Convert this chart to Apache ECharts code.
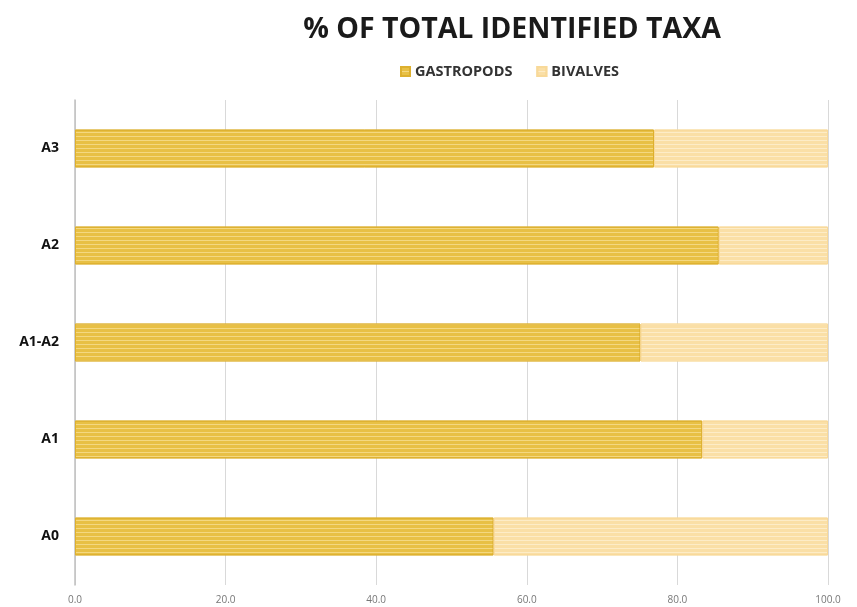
<!DOCTYPE html>
<html><head><meta charset="utf-8">
<script src="https://cdn.jsdelivr.net/npm/echarts@6/dist/echarts.min.js"></script>
<style>html,body{margin:0;padding:0;background:#fff}#c{width:857px;height:607px}</style>
</head><body><div id="c"></div>
<script>
var categories = ['A0', 'A1', 'A1-A2', 'A2', 'A3'];
var gastropods = [55.6, 83.3, 75.1, 85.5, 76.9];
var bivalves = [44.4, 16.7, 24.9, 14.5, 23.1];
var xTicks = [0, 20, 40, 60, 80, 100];

var chart = echarts.init(document.getElementById('c'));
chart.setOption({
  backgroundColor: '#fff',
  title: {
    text: '% OF TOTAL IDENTIFIED TAXA',
    left: 507, top: 10, textAlign: 'center',
    textStyle: {fontFamily: 'Open Sans', fontSize: 28.5, fontWeight: 700, color: '#1a1a1a'}
  },
  legend: {
    data: ['GASTROPODS', 'BIVALVES'],
    top: 59, left: 395,
    itemWidth: 9, itemHeight: 9, itemGap: 24, icon: 'rect',
    textStyle: {fontFamily: 'Open Sans', fontSize: 14.5, fontWeight: 700, color: '#333'}
  },
  grid: {left: 75, right: 29, top: 100, bottom: 22, containLabel: false},
  xAxis: {
    type: 'value', min: 0, max: 100, interval: 20,
    axisLine: {show: false}, axisTick: {show: false},
    splitLine: {lineStyle: {color: '#d9d9d9', width: 1}},
    axisLabel: {fontFamily: 'Open Sans', fontSize: 10, color: '#777', margin: 10,
      formatter: function (v) { return v.toFixed(1); }}
  },
  yAxis: {
    type: 'category', data: categories,
    axisLine: {lineStyle: {color: '#bfbfbf', width: 1.5}},
    axisTick: {show: false},
    axisLabel: {fontFamily: 'Open Sans', fontSize: 14, fontWeight: 700, color: '#111', margin: 16}
  },
  series: [
    {
      name: 'GASTROPODS', type: 'bar', stack: 't', barWidth: '39%',
      data: gastropods,
      itemStyle: {color: '#E8C045', borderColor: '#DDB02F', borderWidth: 1,
        decal: {symbol: 'rect', dashArrayX: [1, 0], dashArrayY: [1, 3], symbolSize: 1, color: 'rgba(255,240,190,0.5)', rotation: 0}}
    },
    {
      name: 'BIVALVES', type: 'bar', stack: 't', barWidth: '39%',
      data: bivalves,
      itemStyle: {color: '#FADFA6', borderColor: '#F8D999', borderWidth: 1,
        decal: {symbol: 'rect', dashArrayX: [1, 0], dashArrayY: [1, 3], symbolSize: 1, color: 'rgba(255,246,225,0.55)', rotation: 0}}
    }
  ]
});
</script></body></html>
